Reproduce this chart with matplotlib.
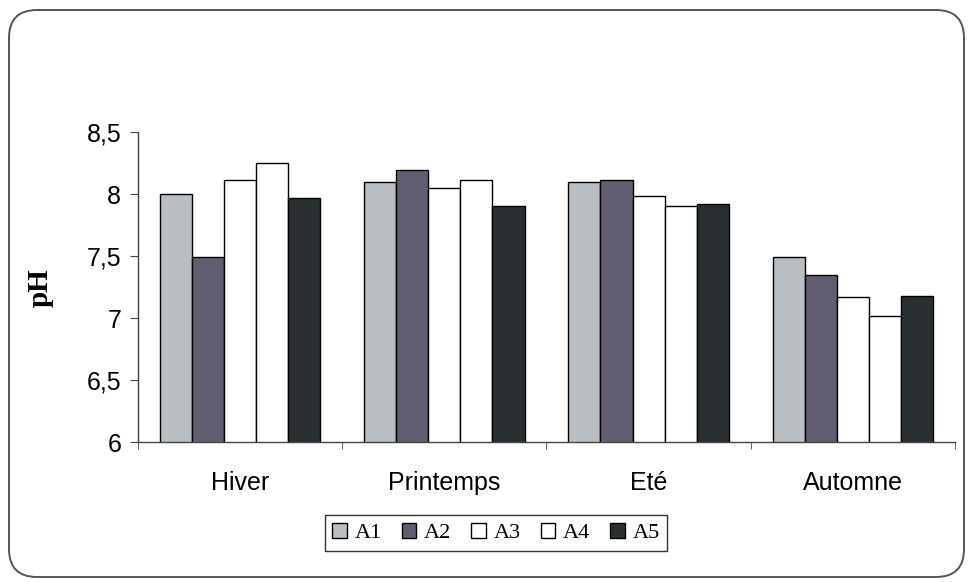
import matplotlib
matplotlib.use("Agg")
import matplotlib.pyplot as plt
import numpy as np
from matplotlib.patches import FancyBboxPatch

seasons = ["Hiver", "Printemps", "Eté", "Automne"]
series = ["A1", "A2", "A3", "A4", "A5"]
a1 = [8.00, 8.10, 8.10, 7.49]
a2 = [7.49, 8.19, 8.11, 7.35]
a3 = [8.11, 8.05, 7.98, 7.17]
a4 = [8.25, 8.11, 7.90, 7.02]
a5 = [7.97, 7.90, 7.92, 7.18]
values = [a1, a2, a3, a4, a5]
colors = ["#b9bec3", "#625d70", "#ffffff", "#ffffff", "#2a3032"]

fig = plt.figure(figsize=(9.69, 5.82), dpi=100)

# rounded frame around the whole chart (pixel coords)
bg = fig.add_axes([0, 0, 1, 1])
bg.set_xlim(0, 969)
bg.set_ylim(0, 582)
bg.axis("off")
bg.add_patch(FancyBboxPatch((9, 5), 955, 567,
                            boxstyle="round,pad=0,rounding_size=28",
                            facecolor="white", edgecolor="#555555", lw=1.4))

ax = fig.add_axes([0.1424, 0.2405, 0.8431, 0.5327])
ax.set_facecolor("none")

x = np.arange(len(seasons))
w = 0.157
for i, (name, vals) in enumerate(zip(series, values)):
    ax.bar(x + (i - 2) * w, vals, width=w, bottom=0, color=colors[i],
           edgecolor="black", linewidth=1.0, label=name)

ax.set_xlim(-0.5, 3.5)
ax.set_ylim(6, 8.5)
ax.set_yticks([6, 6.5, 7, 7.5, 8, 8.5])
ax.set_yticklabels(["6", "6,5", "7", "7,5", "8", "8,5"])
ax.set_xticks(x)
ax.set_xticklabels(seasons)
ax.set_xticks(np.arange(-0.5, 4.0, 1.0), minor=True)
ax.tick_params(axis="x", which="major", length=0, pad=21,
               labelsize=18)
ax.tick_params(axis="x", which="minor", length=5, direction="out",
               color="#444444")
ax.tick_params(axis="y", length=6, direction="out", color="#444444",
               labelsize=18, pad=6)
for lab in ax.get_xticklabels() + ax.get_yticklabels():
    lab.set_family("Liberation Sans")

for s in ["top", "right"]:
    ax.spines[s].set_visible(False)
for s in ["left", "bottom"]:
    ax.spines[s].set_color("#444444")
    ax.spines[s].set_linewidth(1.0)

ax.set_ylabel("pH", family="Liberation Serif", fontweight="bold",
              fontsize=21)
ax.yaxis.set_label_coords(-0.103, 0.497)

leg = fig.legend(loc="center", bbox_to_anchor=(496 / 969, 0.084), ncol=5,
                 frameon=True, fancybox=False, edgecolor="black",
                 prop={"family": "Liberation Serif", "size": 16},
                 handlelength=0.65, handleheight=0.65, handletextpad=0.35,
                 columnspacing=0.9, borderpad=0.35)
leg.get_frame().set_linewidth(1.0)

fig.savefig("out.png", dpi=100)
